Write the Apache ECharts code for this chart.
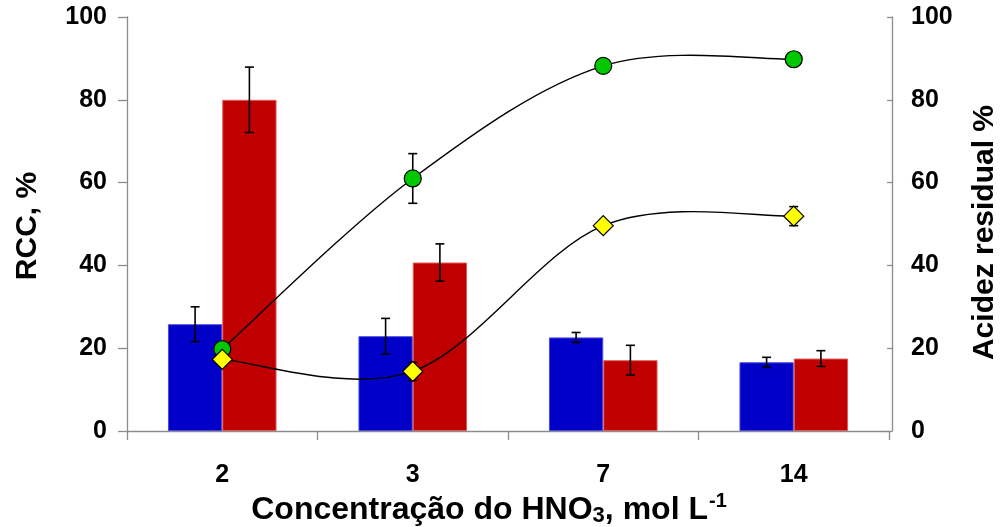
<!DOCTYPE html>
<html>
<head>
<meta charset="utf-8">
<script src="https://cdn.jsdelivr.net/npm/echarts@6/dist/echarts.min.js"></script>
<style>
  html, body { margin: 0; padding: 0; background: #fff; }
  #chart { width: 1007px; height: 527px; }
</style>
</head>
<body>
<div id="chart"></div>
<script>
// HNO3 concentration (mol/L) on the category axis
const categories = ['2', '3', '7', '14'];

// RCC bars (left axis, %) and their standard deviations
const rccBlue = [25.8, 22.9, 22.6, 16.6];
const rccBlueErr = [4.2, 4.3, 1.2, 1.2];
const rccRed = [80.0, 40.7, 17.1, 17.5];
const rccRedErr = [7.9, 4.5, 3.6, 1.9];

// Residual acidity curves (right axis, %) and their standard deviations
const acidGreen = [19.8, 61.0, 88.2, 89.8];
const acidGreenErr = [0, 6.0, 0, 0];
const acidYellow = [17.3, 14.4, 49.6, 51.9];
const acidYellowErr = [0, 2.2, 0, 2.3];

// Axis ranges
const yMin = 0, yMax = 100, yStep = 20;

const FONT = '"Liberation Sans", Arial, sans-serif';
const AXIS_GRAY = '#8c8c8c';
const CAT_GAP = 0.43;

// Error-bar renderer; side = -1 (left bar), +1 (right bar), 0 (centred)
function errorBars(side) {
  return function (params, api) {
    const x = api.value(0), y = api.value(1), e = api.value(2);
    if (!e) return null;
    const band = api.size([1, 0])[0];
    const off = side * band * (1 - CAT_GAP) / 4;
    const top = api.coord([x, y + e]);
    const bot = api.coord([x, y - e]);
    const cx = top[0] + off;
    const cap = 4.5;
    const style = { stroke: '#000', lineWidth: 1.6 };
    return {
      type: 'group',
      children: [
        { type: 'line', shape: { x1: cx, y1: top[1], x2: cx, y2: bot[1] }, style },
        { type: 'line', shape: { x1: cx - cap, y1: top[1], x2: cx + cap, y2: top[1] }, style },
        { type: 'line', shape: { x1: cx - cap, y1: bot[1], x2: cx + cap, y2: bot[1] }, style }
      ]
    };
  };
}

// Catmull-Rom style smoothed curve through a value array (one segment per item)
function smoothCurve(values) {
  return function (params, api) {
    const i = params.dataIndex;
    if (i >= values.length - 1) return null;
    const p = values.map((v, k) => api.coord([k, v]));
    const p0 = p[Math.max(i - 1, 0)];
    const p1 = p[i];
    const p2 = p[i + 1];
    const p3 = p[Math.min(i + 2, p.length - 1)];
    const c1 = [p1[0] + (p2[0] - p0[0]) / 6, p1[1] + (p2[1] - p0[1]) / 6];
    const c2 = [p2[0] - (p3[0] - p1[0]) / 6, p2[1] - (p3[1] - p1[1]) / 6];
    return {
      type: 'bezierCurve',
      shape: { x1: p1[0], y1: p1[1], x2: p2[0], y2: p2[1], cpx1: c1[0], cpy1: c1[1], cpx2: c2[0], cpy2: c2[1] },
      style: { stroke: '#000', lineWidth: 1.4, fill: null }
    };
  };
}

function withErr(vals, errs) {
  return vals.map((v, i) => [i, v, errs[i]]);
}

const chart = echarts.init(document.getElementById('chart'), null, { renderer: 'canvas' });

const axisLabelStyle = { color: '#000', fontFamily: FONT, fontWeight: 'bold', fontSize: 25 };
const nameStyle = { color: '#000', fontFamily: FONT, fontWeight: 'bold', fontSize: 30 };

chart.setOption({
  animation: false,
  backgroundColor: '#fff',
  grid: { left: 127, right: 118, top: 17, bottom: 96, containLabel: false, outerBoundsMode: 'none' },
  xAxis: {
    type: 'category',
    data: categories,
    boundaryGap: true,
    axisLine: { lineStyle: { color: AXIS_GRAY, width: 1.3 } },
    axisTick: { show: true, length: 9, lineStyle: { color: AXIS_GRAY, width: 1.3 } },
    axisLabel: Object.assign({ margin: 32 }, axisLabelStyle),
    splitLine: { show: false },
    name: '{b|Concentração do HNO}{sub|3}{b|, mol L}{sup|-1}',
    nameLocation: 'middle',
    nameGap: 59,
    nameMoveOverlap: false,
    nameTextStyle: {
      padding: [0, 38, 0, 0],
      rich: {
        b: { color: '#000', fontFamily: FONT, fontWeight: 'bold', fontSize: 32, lineHeight: 40, verticalAlign: 'middle' },
        sub: { color: '#000', fontFamily: FONT, fontWeight: 'bold', fontSize: 22, lineHeight: 40, verticalAlign: 'bottom', padding: [0, 0, 3, 0] },
        sup: { color: '#000', fontFamily: FONT, fontWeight: 'bold', fontSize: 20, lineHeight: 40, verticalAlign: 'top', padding: [1, 0, 0, 1] }
      }
    }
  },
  yAxis: [
    {
      type: 'value',
      min: yMin, max: yMax, interval: yStep,
      position: 'left',
      axisLine: { show: true, lineStyle: { color: AXIS_GRAY, width: 1.3 } },
      axisTick: { show: true, length: 9, lineStyle: { color: AXIS_GRAY, width: 1.3 } },
      axisLabel: Object.assign({ margin: 20 }, axisLabelStyle),
      splitLine: { show: false },
      name: 'RCC, %',
      nameLocation: 'middle',
      nameRotate: 90,
      nameGap: 84,
      nameMoveOverlap: false,
      nameTextStyle: Object.assign({ padding: [0, 4, 0, 0] }, nameStyle)
    },
    {
      type: 'value',
      min: yMin, max: yMax, interval: yStep,
      position: 'right',
      offset: 3,
      axisLine: { show: true, lineStyle: { color: AXIS_GRAY, width: 1.3 } },
      axisTick: { show: true, inside: true, length: 5, lineStyle: { color: AXIS_GRAY, width: 1.3 } },
      axisLabel: Object.assign({ margin: 19 }, axisLabelStyle),
      splitLine: { show: false },
      name: 'Acidez residual %',
      nameLocation: 'middle',
      nameRotate: 90,
      nameGap: 78,
      nameMoveOverlap: false,
      nameTextStyle: Object.assign({ padding: [0, 17, 0, 0] }, nameStyle)
    }
  ],
  series: [
    {
      name: 'RCC A',
      type: 'bar',
      data: rccBlue,
      barGap: 0,
      barCategoryGap: (CAT_GAP * 100) + '%',
      itemStyle: { color: '#0000c8', borderColor: '#4a4ae0', borderWidth: 1 },
      z: 2
    },
    {
      name: 'RCC B',
      type: 'bar',
      data: rccRed,
      barGap: 0,
      barCategoryGap: (CAT_GAP * 100) + '%',
      itemStyle: { color: '#c00000', borderColor: '#e05a5a', borderWidth: 1 },
      z: 2
    },
    {
      type: 'custom',
      renderItem: errorBars(-1),
      data: withErr(rccBlue, rccBlueErr),
      encode: { x: 0, y: 1 },
      z: 3,
      silent: true
    },
    {
      type: 'custom',
      renderItem: errorBars(1),
      data: withErr(rccRed, rccRedErr),
      encode: { x: 0, y: 1 },
      z: 3,
      silent: true
    },
    {
      type: 'custom',
      yAxisIndex: 1,
      renderItem: errorBars(0),
      data: withErr(acidGreen, acidGreenErr),
      encode: { x: 0, y: 1 },
      z: 4,
      silent: true
    },
    {
      type: 'custom',
      yAxisIndex: 1,
      renderItem: errorBars(0),
      data: withErr(acidYellow, acidYellowErr),
      encode: { x: 0, y: 1 },
      z: 4,
      silent: true
    },
    {
      type: 'custom',
      yAxisIndex: 1,
      renderItem: smoothCurve(acidGreen),
      data: acidGreen.map((v, i) => [i, v]),
      encode: { x: 0, y: 1 },
      z: 5,
      silent: true
    },
    {
      type: 'custom',
      yAxisIndex: 1,
      renderItem: smoothCurve(acidYellow),
      data: acidYellow.map((v, i) => [i, v]),
      encode: { x: 0, y: 1 },
      z: 5,
      silent: true
    },
    {
      name: 'Acidez A',
      type: 'scatter',
      yAxisIndex: 1,
      data: acidGreen.map((v, i) => [i, v]),
      symbol: 'circle',
      symbolSize: 17,
      itemStyle: { color: '#00c800', borderColor: '#000', borderWidth: 1.2, opacity: 1 },
      z: 6
    },
    {
      name: 'Acidez B',
      type: 'scatter',
      yAxisIndex: 1,
      data: acidYellow.map((v, i) => [i, v]),
      symbol: 'diamond',
      symbolSize: [20, 20],
      itemStyle: { color: '#ffff00', borderColor: '#000', borderWidth: 1.2, opacity: 1 },
      z: 6
    }
  ]
});
</script>
</body>
</html>
